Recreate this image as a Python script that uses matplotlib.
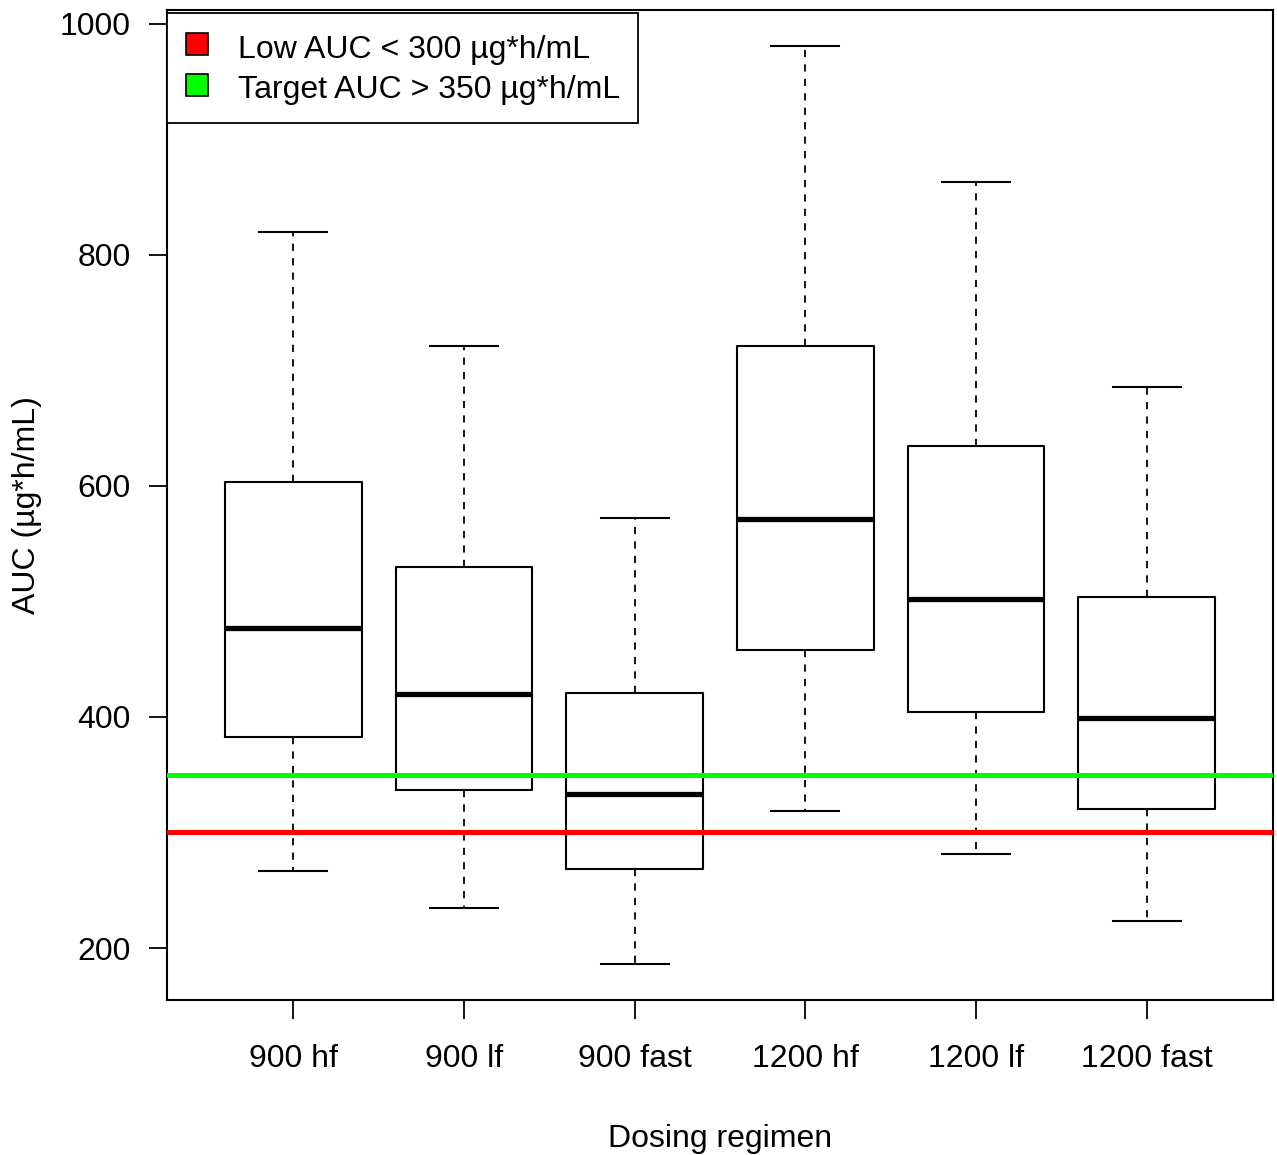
import matplotlib.pyplot as plt
from matplotlib.lines import Line2D

plt.rcParams['font.family'] = ['Liberation Sans', 'DejaVu Sans']

# =========================================
# DATA
# =========================================

regimens = ["900 hf", "900 lf", "900 fast", "1200 hf", "1200 lf", "1200 fast"]
whisker_low = [267, 235, 186, 319, 281, 223]
q1 = [383, 337, 268, 458, 404, 320]
median = [477, 420, 333, 571, 502, 399]
q3 = [603, 530, 421, 721, 635, 504]
whisker_high = [820, 721, 572, 981, 863, 686]

low_auc = 300
target_auc = 350

# =========================================
# BOXPLOT
# =========================================

stats = []
for i in range(len(regimens)):
    stats.append({
        "label": regimens[i],
        "whislo": whisker_low[i],
        "q1": q1[i],
        "med": median[i],
        "q3": q3[i],
        "whishi": whisker_high[i],
        "fliers": [],
    })

fig = plt.figure(figsize=(12.77, 11.55), dpi=100)
ax = fig.add_axes([167 / 1277, 155 / 1155, 1106 / 1277, 990 / 1155])

ax.bxp(
    stats,
    positions=range(1, len(regimens) + 1),
    widths=0.8,
    capwidths=0.4,
    showfliers=False,
    boxprops=dict(color="black", linewidth=1.5),
    medianprops=dict(color="black", linewidth=3.8, solid_capstyle="butt"),
    whiskerprops=dict(color="black", linewidth=1.3, linestyle=(0, (4, 4))),
    capprops=dict(color="black", linewidth=1.5),
)

ax.axhline(target_auc, color="#00ff00", linewidth=3.6, zorder=5)
ax.axhline(low_auc, color="#ff0000", linewidth=3.6, zorder=5)

ax.set_xlim(0.26, 6.74)
ax.set_ylim(155, 1012)
ax.set_yticks([200, 400, 600, 800, 1000])
ax.set_xticks(range(1, len(regimens) + 1))
ax.set_xticklabels(regimens)

for side in ax.spines.values():
    side.set_linewidth(1.5)

ax.tick_params(axis="x", length=14, width=1.3, pad=18, labelsize=23)
ax.tick_params(axis="y", length=13, width=1.3, pad=13, labelsize=23)

ax.set_xlabel("Dosing regimen", fontsize=23, labelpad=36)
ax.set_ylabel("AUC (\u00b5g*h/mL)", fontsize=23, labelpad=13)

# =========================================
# LEGEND
# =========================================

handles = [
    Line2D([], [], linestyle="none", marker="s", markersize=15.5,
           markerfacecolor="#ff0000", markeredgecolor="black", markeredgewidth=1.2),
    Line2D([], [], linestyle="none", marker="s", markersize=15.5,
           markerfacecolor="#00ff00", markeredgecolor="black", markeredgewidth=1.2),
]
leg = ax.legend(
    handles,
    ["Low AUC < 300 \u00b5g*h/mL", "Target AUC > 350 \u00b5g*h/mL"],
    loc="upper left",
    bbox_to_anchor=(0, 1 - 3 / 990),
    borderaxespad=0,
    fontsize=23,
    frameon=True,
    fancybox=False,
    edgecolor="black",
    framealpha=1,
    handlelength=0.8,
    handleheight=1.2,
    handletextpad=0.87,
    labelspacing=0.2,
    borderpad=0.55,
)
leg.get_frame().set_linewidth(1.3)
leg.set_zorder(10)

plt.savefig("out.png", dpi=100)
